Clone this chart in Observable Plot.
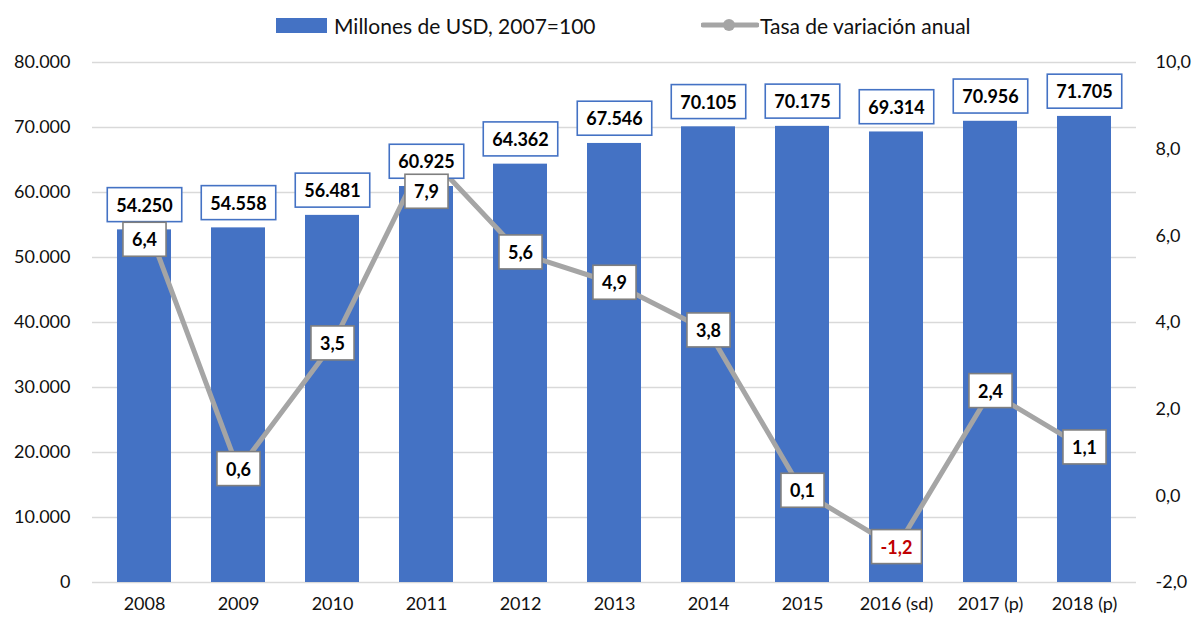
<!DOCTYPE html>
<html><head><meta charset="utf-8">
<script src="https://cdn.jsdelivr.net/npm/d3@7"></script>
<script src="https://cdn.jsdelivr.net/npm/@observablehq/plot@0.6"></script>
<style>
body{margin:0;background:#fff;font-family:Lato,"Open Sans",sans-serif;}
#legend{position:relative;width:1196px;height:45px;}
#legend .lt{position:absolute;top:12px;font-size:21px;line-height:27px;color:#111;white-space:nowrap;}
#chart svg{display:block;overflow:visible;}
</style></head><body>
<div id="legend">
  <div style="position:absolute;left:276px;top:18px;width:51px;height:15px;background:#4472C4"></div>
  <div class="lt" style="left:334px">Millones de USD, 2007=100</div>
  <svg style="position:absolute;left:701px;top:15px" width="58" height="20"><line x1="2" y1="10" x2="56" y2="10" stroke="#A5A5A5" stroke-width="5" stroke-linecap="round"/><circle cx="28" cy="10" r="6" fill="#A5A5A5"/></svg>
  <div class="lt" style="left:760px">Tasa de variación anual</div>
</div>
<div id="chart"></div>
<script>
const years = ["2008","2009","2010","2011","2012","2013","2014","2015","2016 (sd)","2017 (p)","2018 (p)"];
const millones = [54250,54558,56481,60925,64362,67546,70105,70175,69314,70956,71705];
const tasa = [6.4,0.6,3.5,7.9,5.6,4.9,3.8,0.1,-1.2,2.4,1.1];
const leftTicks = [0,10000,20000,30000,40000,50000,60000,70000,80000];
const rightTicks = [-2,0,2,4,6,8,10];

const data = years.map((y,i)=>({year:y, millones:millones[i], tasa:tasa[i]}));

const loc = d3.formatLocale({decimal:",", thousands:".", grouping:[3], currency:["$",""], minus:"-"});
const fmt0 = loc.format(",.0f");
const fmt1 = loc.format(",.1f");

// map right axis (-2..10) onto left axis (0..80000)
const rMin = -2, rMax = 10, lMax = 80000;
const toL = v => (v - rMin) * lMax / (rMax - rMin);
const fromL = v => v * (rMax - rMin) / lMax + rMin;

const moved = {"2008": 22, "2011": 39};
const lineLabelBase = {x:"year", y:d=>toL(d.tasa), text:d=>fmt1(d.tasa),
  fill:d=>d.tasa<0?"#C00000":"#000", fontWeight:"bold", fontSize:18};

const chart = Plot.plot({
  width:1196, height:576,
  marginTop:17, marginBottom:39, marginLeft:92, marginRight:60,
  style:{fontFamily:"Lato, 'Open Sans', sans-serif", fontSize:"18px", color:"#111", background:"#fff"},
  x:{domain:years, paddingInner:0.43, paddingOuter:0.215, label:null},
  y:{domain:[0,lMax], nice:false, label:null},
  marks:[
    Plot.ruleY(leftTicks, {stroke:"#D9D9D9", strokeWidth:1.4}),
    Plot.barY(data, {x:"year", y:"millones", fill:"#4472C4"}),
    Plot.lineY(data, {x:"year", y:d=>toL(d.tasa), stroke:"#A5A5A5", strokeWidth:5, strokeLinejoin:"round"}),
    Plot.text(data, {x:"year", y:"millones", text:d=>fmt0(d.millones), dy:-24, fontWeight:"bold", fontSize:18, fill:"#000", className:"barlab", ariaLabel:"barlab"}),
    Plot.text(data, {...lineLabelBase, filter:d=>!(d.year in moved), className:"linelab", ariaLabel:"linelab"}),
    Plot.text(data, {...lineLabelBase, filter:d=>d.year==="2008", dy:moved["2008"], className:"linelab", ariaLabel:"linelab"}),
    Plot.text(data, {...lineLabelBase, filter:d=>d.year==="2011", dy:moved["2011"], className:"linelab", ariaLabel:"linelab"}),
    Plot.axisY({anchor:"left", ticks:leftTicks, tickFormat:fmt0, tickSize:0, tickPadding:22, label:null, fontSize:18}),
    Plot.axisY({anchor:"right", ticks:rightTicks.map(toL), tickFormat:d=>fmt1(fromL(d)), tickSize:0, tickPadding:19, label:null, fontSize:18}),
    Plot.axisX({tickSize:0, tickPadding:15, label:null, fontSize:18})
  ]
});
document.getElementById("chart").appendChild(chart);

function boxify(name, stroke){
  const groups = chart.querySelectorAll(`g.${name}, g[aria-label="${name}"]`);
  const seen = new Set();
  groups.forEach(g=>{
    g.querySelectorAll("text").forEach(t=>{
      if (seen.has(t)) return; seen.add(t);
      const b = t.getBBox();
      const r = document.createElementNS("http://www.w3.org/2000/svg","rect");
      const px = 9, h = 34;
      r.setAttribute("x", b.x - px);
      r.setAttribute("y", b.y + b.height/2 - h/2);
      r.setAttribute("width", b.width + 2*px);
      r.setAttribute("height", h);
      r.setAttribute("fill", "#fff");
      r.setAttribute("stroke", stroke);
      r.setAttribute("stroke-width", 1.6);
      const tr = t.getAttribute("transform");
      if (tr) r.setAttribute("transform", tr);
      t.parentNode.insertBefore(r, t);
    });
  });
}
boxify("barlab", "#4472C4");
boxify("linelab", "#7F7F7F");
</script>
</body></html>
